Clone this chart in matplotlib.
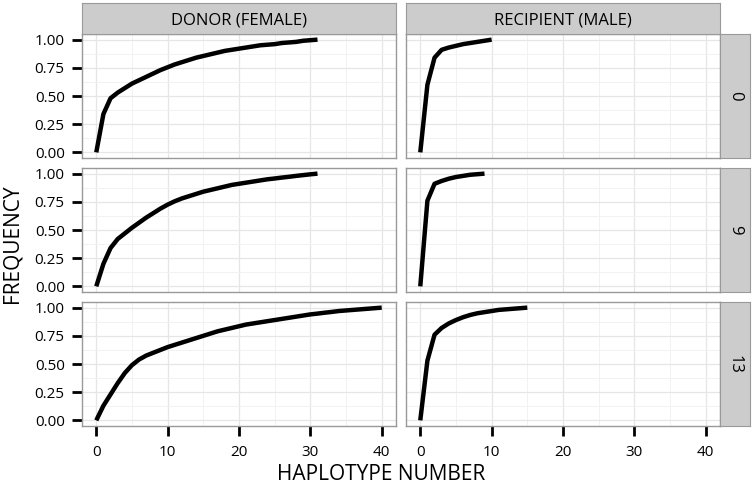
import numpy as np
import matplotlib.pyplot as plt
from matplotlib.ticker import MultipleLocator

plt.rcParams['font.family'] = ['Open Sans', 'DejaVu Sans']

# cumulative haplotype frequency, x = 0, 1, 2, ...
donor_0 = [0, 0.34, 0.48, 0.53, 0.57, 0.61, 0.64, 0.67, 0.70, 0.73, 0.755,
           0.78, 0.80, 0.82, 0.84, 0.855, 0.87, 0.885, 0.90, 0.91, 0.92,
           0.93, 0.94, 0.95, 0.955, 0.96, 0.97, 0.975, 0.98, 0.99, 0.995, 1.0]
recip_0 = [0, 0.60, 0.84, 0.91, 0.93, 0.945, 0.96, 0.97, 0.98, 0.99, 1.0]

donor_9 = [0, 0.20, 0.34, 0.42, 0.47, 0.52, 0.565, 0.61, 0.65, 0.69, 0.725,
           0.755, 0.78, 0.80, 0.82, 0.84, 0.855, 0.87, 0.885, 0.90, 0.91,
           0.92, 0.93, 0.94, 0.95, 0.957, 0.965, 0.972, 0.98, 0.987, 0.994, 1.0]
recip_9 = [0, 0.76, 0.91, 0.935, 0.955, 0.97, 0.98, 0.99, 0.995, 1.0]

donor_13 = [0, 0.13, 0.23, 0.33, 0.42, 0.49, 0.54, 0.575, 0.60, 0.625, 0.65,
            0.67, 0.69, 0.71, 0.73, 0.75, 0.77, 0.79, 0.805, 0.82, 0.835,
            0.85, 0.86, 0.87, 0.88, 0.89, 0.90, 0.91, 0.92, 0.93, 0.94,
            0.947, 0.955, 0.962, 0.97, 0.975, 0.98, 0.985, 0.99, 0.995, 1.0]
recip_13 = [0, 0.53, 0.76, 0.82, 0.86, 0.89, 0.915, 0.935, 0.95, 0.96, 0.97,
            0.98, 0.985, 0.99, 0.995, 1.0]

col_labels = ['DONOR (FEMALE)', 'RECIPIENT (MALE)']
row_labels = ['0', '9', '13']
series = [[donor_0, recip_0], [donor_9, recip_9], [donor_13, recip_13]]

fig = plt.figure(figsize=(7.54, 4.86), dpi=100)
W, H = 754.0, 486.0

# panel geometry in pixels
xl = [82, 406]
pw = 314
yt = [34, 168, 302]
ph = 124
strip_w = 30
strip_h = 31

grid_major = '#e6e6e6'
grid_minor = '#f2f2f2'
border = '#999999'
strip_col = '#cccccc'

for r in range(3):
    for c in range(2):
        ax = fig.add_axes([xl[c] / W, 1 - (yt[r] + ph) / H, pw / W, ph / H])
        y = series[r][c]
        x = np.arange(len(y))
        ax.plot(x, y, color='black', lw=3.2, solid_capstyle='butt', zorder=3)
        ax.set_xlim(-2, 42)
        ax.set_ylim(-0.05, 1.05)
        ax.xaxis.set_major_locator(MultipleLocator(10))
        ax.xaxis.set_minor_locator(MultipleLocator(5))
        ax.yaxis.set_major_locator(MultipleLocator(0.25))
        ax.yaxis.set_minor_locator(MultipleLocator(0.125))
        ax.grid(which='major', color=grid_major, lw=0.9, zorder=0)
        ax.grid(which='minor', color=grid_minor, lw=0.7, zorder=0)
        ax.set_axisbelow(True)
        for s in ax.spines.values():
            s.set_color(border)
            s.set_linewidth(1.0)
        ax.tick_params(which='minor', length=0)
        ax.tick_params(which='major', length=7.5, width=2, color='black',
                       labelsize=11, labelcolor='black')
        ax.tick_params(axis='y', pad=5)
        ax.tick_params(axis='x', pad=6)
        if c == 0:
            ax.set_yticks([0, 0.25, 0.5, 0.75, 1.0])
            ax.set_yticklabels(['0.00', '0.25', '0.50', '0.75', '1.00'])
        else:
            ax.tick_params(axis='y', which='major', length=0, labelleft=False)
        if r == 2:
            ax.set_xticks([0, 10, 20, 30, 40])
        else:
            ax.tick_params(axis='x', which='major', length=0, labelbottom=False)

        # column strips
        if r == 0:
            sax = fig.add_axes([xl[c] / W, 1 - yt[0] / H, pw / W, strip_h / H])
            sax.set_facecolor(strip_col)
            sax.set_xticks([])
            sax.set_yticks([])
            for s in sax.spines.values():
                s.set_color(border)
            sax.text(0.5, 0.45, col_labels[c], ha='center', va='center',
                     fontsize=12, transform=sax.transAxes)
        # row strips
        if c == 1:
            sax = fig.add_axes([(xl[1] + pw) / W, 1 - (yt[r] + ph) / H,
                                strip_w / W, ph / H])
            sax.set_facecolor(strip_col)
            sax.set_xticks([])
            sax.set_yticks([])
            for s in sax.spines.values():
                s.set_color(border)
            sax.text(0.5, 0.5, row_labels[r], ha='center', va='center',
                     rotation=-90, fontsize=12, transform=sax.transAxes)

fig.text(381 / W, 1 - 474 / H, 'HAPLOTYPE NUMBER',
         ha='center', va='center', fontsize=15)
fig.text(12 / W, 1 - 244 / H, 'FREQUENCY', ha='center', va='center',
         rotation=90, fontsize=15)

fig.savefig('out.png', dpi=100)
